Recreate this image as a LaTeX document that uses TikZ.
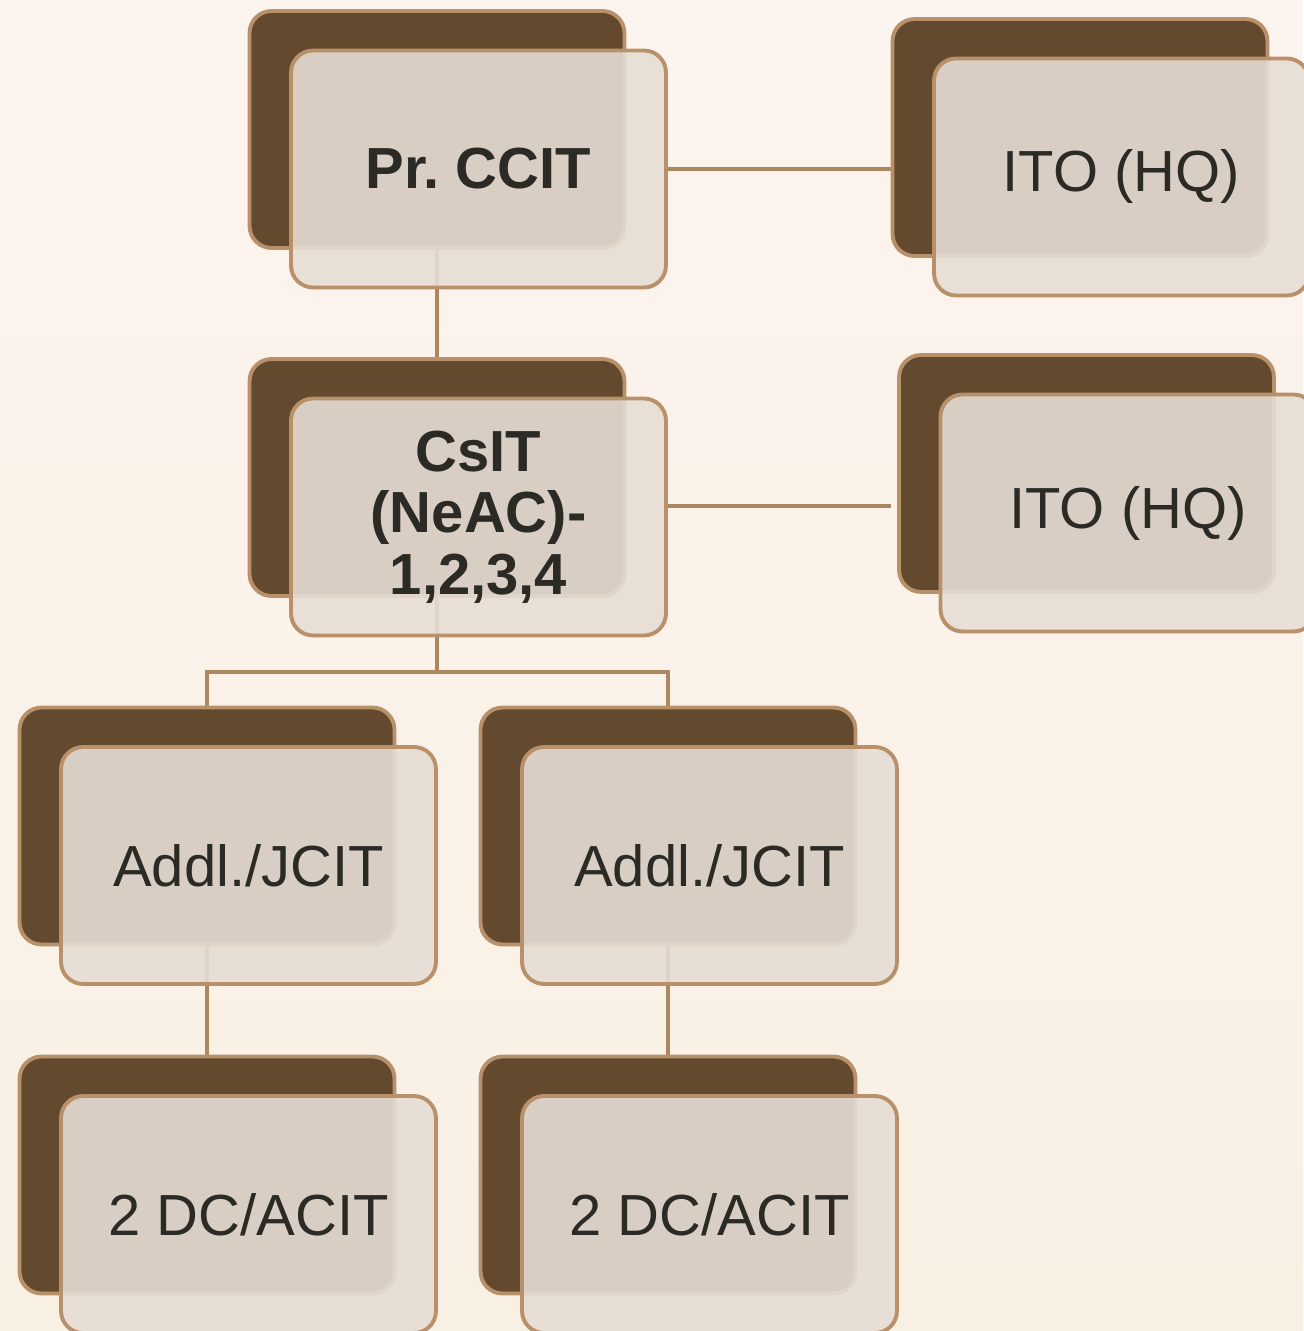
\documentclass[tikz,border=0pt]{standalone}
\usepackage{fontspec}
\setmainfont{Liberation Sans}
\usetikzlibrary{backgrounds}
\definecolor{cardbrown}{HTML}{634A2E}
\definecolor{cardedge}{HTML}{B8916A}
\definecolor{cardfront}{HTML}{E6DDD4}
\definecolor{inkdark}{HTML}{2B2A25}
\definecolor{linktan}{HTML}{AD8760}
\definecolor{papertop}{HTML}{FCF4EE}
\definecolor{paperbottom}{HTML}{F9F0E4}
\frenchspacing

\begin{document}
\begin{tikzpicture}[
  x=0.02cm,y=-0.02cm,
  backcard/.style={draw=cardedge,line width=2.2pt,rounded corners=0.44cm,fill=cardbrown,
    minimum width=7.5cm,minimum height=4.74cm,inner sep=0pt},
  frontcard/.style={draw=cardedge,line width=2.2pt,rounded corners=0.44cm,fill=cardfront,
    fill opacity=0.9,text opacity=1,minimum width=7.5cm,minimum height=4.74cm,
    xshift=0.83cm,yshift=-0.79cm,align=center,text=inkdark},
  link/.style={draw=linktan,line width=1.9pt},
  every node/.append style={font=\fontsize{33}{35}\selectfont}
]
  \begin{scope}[on background layer]
    \shade[top color=papertop,bottom color=paperbottom] (0,0) rectangle (1303,1331);
  \end{scope}
  \useasboundingbox (0,0) rectangle (1303,1331);

  \node[backcard] (pr) at (437,129.5) {};
  \node[frontcard] (prf) at (pr) {\textbf{Pr. CCIT}};
  \node[backcard] (itoa) at (1080,137.5) {};
  \node[frontcard] (itoaf) at (itoa) {ITO (HQ)};
  \node[backcard] (csit) at (437,477.5) {};
  \node[frontcard] (csitf) at (csit) {\textbf{CsIT}\\\textbf{(NeAC)-}\\\textbf{1,2,3,4}};
  \node[backcard] (itob) at (1086.5,473.5) {};
  \node[frontcard] (itobf) at (itob) {ITO (HQ)};
  \node[backcard] (jcita) at (207,826) {};
  \node[frontcard] (jcitaf) at (jcita) {Addl./JCIT};
  \node[backcard] (jcitb) at (668,826) {};
  \node[frontcard] (jcitbf) at (jcitb) {Addl./JCIT};
  \node[backcard] (dca) at (207,1175) {};
  \node[frontcard] (dcaf) at (dca) {2 DC/ACIT};
  \node[backcard] (dcb) at (668,1175) {};
  \node[frontcard] (dcbf) at (dcb) {2 DC/ACIT};

  \begin{scope}[on background layer]
    \draw[link] (pr.south) -- (csit.north);
    \draw[link] (prf.east) -- (prf.east -| itoa.west);
    \draw[link] ([yshift=0.22cm]csitf.east) -- ([yshift=0.22cm]csitf.east -| itoa.west);
    \draw[link] (csit.south) -- ++(0,74) coordinate (bus);
    \draw[link] (jcita.north) |- (bus) -| (jcitb.north);
    \draw[link] (jcita.south) -- (dca.north);
    \draw[link] (jcitb.south) -- (dcb.north);
  \end{scope}
\end{tikzpicture}
\end{document}
